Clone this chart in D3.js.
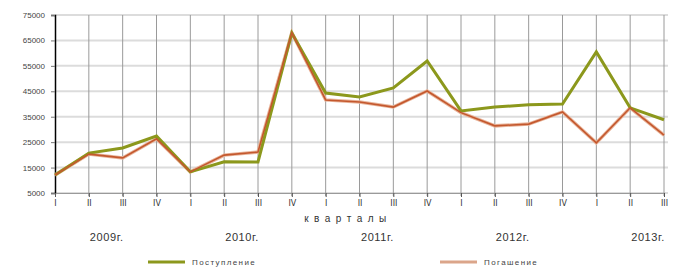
<!DOCTYPE html>
<html>
<head>
<meta charset="utf-8">
<script src="https://cdn.jsdelivr.net/npm/d3@7"></script>
<style>
  body { margin: 0; background: #fff; }
  svg { display: block; }
</style>
</head>
<body>
<svg id="chart"></svg>
<script>
const quarters = ["I", "II", "III", "IV", "I", "II", "III", "IV", "I", "II", "III", "IV", "I", "II", "III", "IV", "I", "II", "III"];
const years = ["2009г.", "2010г.", "2011г.", "2012г.", "2013г."];
const yearCenters = [1.5, 5.5, 9.5, 13.5, 17.5];
const inflow = [12100, 20700, 22700, 27400, 13300, 17300, 17200, 67900, 44300, 42800, 46300, 56900, 37300, 38800, 39700, 40000, 60500, 38500, 33800];
const repay = [12100, 20300, 18800, 26300, 13300, 19900, 21100, 68000, 41600, 40800, 38800, 45100, 36600, 31400, 32100, 36900, 24700, 38500, 27800];
const yTicks = [5000, 15000, 25000, 35000, 45000, 55000, 65000, 75000];

const width = 688;
const height = 270;

const svg = d3.select("#chart")
    .attr("width", width)
    .attr("height", height)
    .attr("font-family", "Liberation Sans, Arial, sans-serif");

const x = d3.scaleLinear()
    .domain([0, quarters.length - 1])
    .range([55, 664]);

const y = d3.scaleLinear()
    .domain([5000, 75000])
    .range([193, 15]);

// horizontal grid
svg.append("g")
    .selectAll("line")
    .data(yTicks)
    .enter().append("line")
    .attr("x1", 55)
    .attr("x2", 668)
    .attr("y1", d => y(d))
    .attr("y2", d => y(d))
    .attr("stroke", "#dcdcdc")
    .attr("stroke-width", 2);

// vertical grid
svg.append("g")
    .selectAll("line")
    .data(quarters.map((q, i) => i).slice(1))
    .enter().append("line")
    .attr("x1", d => x(d))
    .attr("x2", d => x(d))
    .attr("y1", y(75000))
    .attr("y2", y(5000) + 3)
    .attr("stroke", "#9a9a9a")
    .attr("stroke-width", 1);

// y axis
const yAxis = d3.axisLeft(y)
    .tickValues(yTicks)
    .tickSize(4)
    .tickPadding(6)
    .tickFormat(d3.format("d"));

const ya = svg.append("g")
    .attr("transform", "translate(55,0)")
    .call(yAxis);
ya.select(".domain").attr("stroke", "#000").attr("stroke-width", 1.5);
ya.selectAll(".tick line").attr("stroke", "#777");
ya.selectAll(".tick text")
    .attr("font-size", 8)
    .attr("fill", "#444")
    .attr("font-family", "Liberation Sans, Arial, sans-serif");

// x axis baseline + quarter labels
const xAxis = d3.axisBottom(x)
    .tickValues(quarters.map((q, i) => i))
    .tickSize(4)
    .tickPadding(3)
    .tickFormat(i => quarters[i]);

const xa = svg.append("g")
    .attr("transform", `translate(0,${y(5000)})`)
    .call(xAxis);
xa.select(".domain").attr("stroke", "#9a9a9a");
xa.selectAll(".tick line").attr("stroke", "#555");
xa.selectAll(".tick text")
    .attr("font-size", 8)
    .attr("fill", "#333")
    .attr("font-family", "DejaVu Sans, sans-serif");

// lines
const line = d3.line()
    .x((d, i) => x(i))
    .y(d => y(d));

svg.append("path")
    .datum(repay)
    .attr("fill", "none")
    .attr("stroke", "#e8b49a")
    .attr("stroke-width", 3.5)
    .attr("d", line);

svg.append("path")
    .datum(inflow)
    .attr("fill", "none")
    .attr("stroke", "#8c981c")
    .attr("stroke-width", 3)
    .attr("d", line);

svg.append("path")
    .datum(repay)
    .attr("fill", "none")
    .attr("stroke", "#c4582e")
    .attr("stroke-width", 1.6)
    .attr("d", line);

// axis title
svg.append("text")
    .attr("x", 348)
    .attr("y", 222)
    .attr("text-anchor", "middle")
    .attr("font-size", 10)
    .attr("letter-spacing", 5.5)
    .attr("fill", "#333")
    .text("кварталы");

// years
svg.append("g")
    .selectAll("text")
    .data(years)
    .enter().append("text")
    .attr("x", (d, i) => x(yearCenters[i]) + 1)
    .attr("y", 241)
    .attr("text-anchor", "middle")
    .attr("font-size", 11)
    .attr("letter-spacing", 0.6)
    .attr("fill", "#333")
    .text(d => d);

// legend
const legend = [
    {name: "Поступление", color: "#8c981c", x: 148},
    {name: "Погашение", color: "#dba58a", x: 440}
];

const lg = svg.append("g")
    .selectAll("g")
    .data(legend)
    .enter().append("g")
    .attr("transform", d => `translate(${d.x},262)`);

lg.append("line")
    .attr("x1", 0)
    .attr("x2", 37)
    .attr("stroke", d => d.color)
    .attr("stroke-width", 3);

lg.append("text")
    .attr("x", 44)
    .attr("y", 3)
    .attr("font-size", 8)
    .attr("letter-spacing", 1.4)
    .attr("fill", "#444")
    .text(d => d.name);
</script>
</body>
</html>
